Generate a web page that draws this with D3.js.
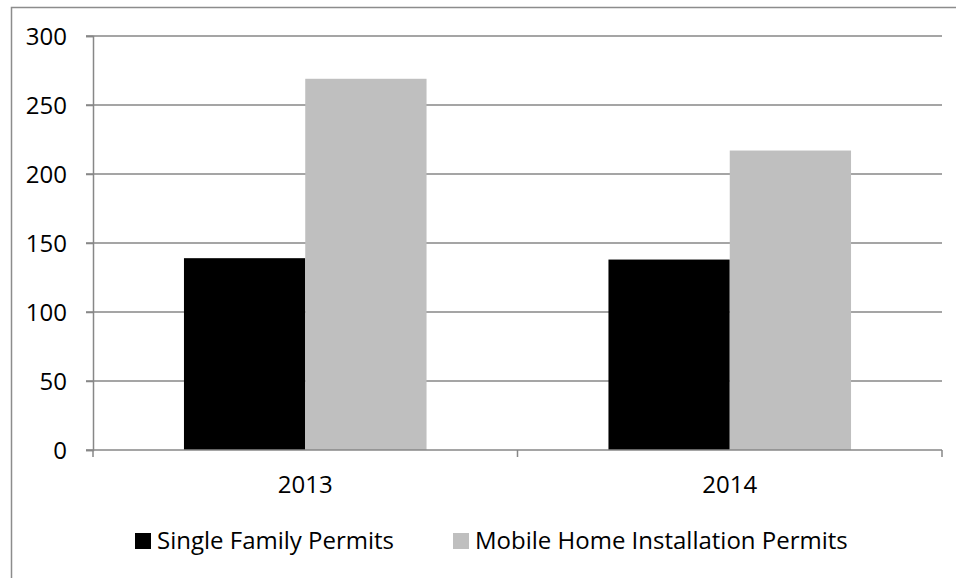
<!DOCTYPE html>
<html>
<head>
<meta charset="utf-8">
<script src="https://cdnjs.cloudflare.com/ajax/libs/d3/7.8.5/d3.min.js"></script>
<style>
  body { margin: 0; background: #fff; }
  text { font-family: "Open Sans", Lato, sans-serif; fill: #000; }
</style>
</head>
<body>
<div id="chart"></div>
<script>
var years = ['2013', '2014'];
var seriesNames = ['Single Family Permits', 'Mobile Home Installation Permits'];
var singleFamily = [139, 138];
var mobileHome = [269, 217];
var yTicks = [0, 50, 100, 150, 200, 250, 300];
var colors = ['#000000', '#bfbfbf'];

var width = 956, height = 578;
var margin = {top: 36, right: 14, bottom: 128, left: 93};
var axisColor = '#878787';
var fontSize = '24px';

var svg = d3.select('#chart').append('svg')
  .attr('width', width)
  .attr('height', height);

// outer chart frame (runs past the right/bottom of the image)
svg.append('rect')
  .attr('x', 11.5).attr('y', 7.5)
  .attr('width', 1000).attr('height', 1000)
  .attr('fill', 'none')
  .attr('stroke', '#8c8c8c')
  .attr('stroke-width', 1.5);

var x0 = d3.scaleBand()
  .domain(years)
  .range([margin.left, width - margin.right]);

var y = d3.scaleLinear()
  .domain([0, 300])
  .range([height - margin.bottom, margin.top]);

// gap width 150% -> group occupies 2/(2+1.5) of band
var groupW = x0.bandwidth() * 2 / 3.5;
var x1 = d3.scaleBand()
  .domain([0, 1])
  .range([0, groupW]);

// gridlines
svg.append('g')
  .selectAll('line')
  .data(yTicks.filter(function(d) { return d > 0; }))
  .enter().append('line')
  .attr('x1', margin.left - 7)
  .attr('x2', width - margin.right)
  .attr('y1', function(d) { return y(d); })
  .attr('y2', function(d) { return y(d); })
  .attr('stroke', axisColor)
  .attr('stroke-width', 1.5);

var data = years.map(function(yr, i) {
  return {year: yr, values: [singleFamily[i], mobileHome[i]]};
});

var groups = svg.append('g').selectAll('g')
  .data(data)
  .enter().append('g')
  .attr('transform', function(d) {
    return 'translate(' + (x0(d.year) + (x0.bandwidth() - groupW) / 2) + ',0)';
  });

groups.selectAll('rect')
  .data(function(d) { return d.values; })
  .enter().append('rect')
  .attr('x', function(d, i) { return x1(i); })
  .attr('width', x1.bandwidth())
  .attr('y', function(d) { return y(d); })
  .attr('height', function(d) { return y(0) - y(d); })
  .attr('fill', function(d, i) { return colors[i]; });

// y axis
var yAxis = svg.append('g')
  .attr('transform', 'translate(' + margin.left + ',0)')
  .call(d3.axisLeft(y).tickValues(yTicks).tickSize(7).tickPadding(19));
yAxis.select('.domain').attr('stroke', axisColor).attr('stroke-width', 1.5);
yAxis.selectAll('.tick line').attr('stroke', axisColor).attr('stroke-width', 1.5);
yAxis.selectAll('.tick text')
  .style('font-size', fontSize)
  .attr('dy', '0.36em');

// x axis
var xAxisG = svg.append('g')
  .attr('transform', 'translate(0,' + y(0) + ')');
xAxisG.append('line')
  .attr('x1', margin.left - 7).attr('x2', width - margin.right)
  .attr('stroke', axisColor).attr('stroke-width', 1.5);
xAxisG.selectAll('.cattick')
  .data(years.map(function(d) { return x0(d); }).concat([width - margin.right]))
  .enter().append('line')
  .attr('x1', function(d) { return d; })
  .attr('x2', function(d) { return d; })
  .attr('y1', 0).attr('y2', 7)
  .attr('stroke', axisColor).attr('stroke-width', 1.5);
xAxisG.selectAll('.cat')
  .data(years)
  .enter().append('text')
  .attr('x', function(d) { return x0(d) + x0.bandwidth() / 2; })
  .attr('y', 43)
  .attr('text-anchor', 'middle')
  .style('font-size', fontSize)
  .text(function(d) { return d; });

// legend
var legendX = [135, 453];
var legend = svg.append('g').selectAll('g')
  .data(seriesNames)
  .enter().append('g')
  .attr('transform', function(d, i) { return 'translate(' + legendX[i] + ',533)'; });
legend.append('rect')
  .attr('width', 16).attr('height', 16)
  .attr('fill', function(d, i) { return colors[i]; });
legend.append('text')
  .attr('x', 22).attr('y', 16)
  .style('font-size', fontSize)
  .text(function(d) { return d; });
</script>
</body>
</html>
